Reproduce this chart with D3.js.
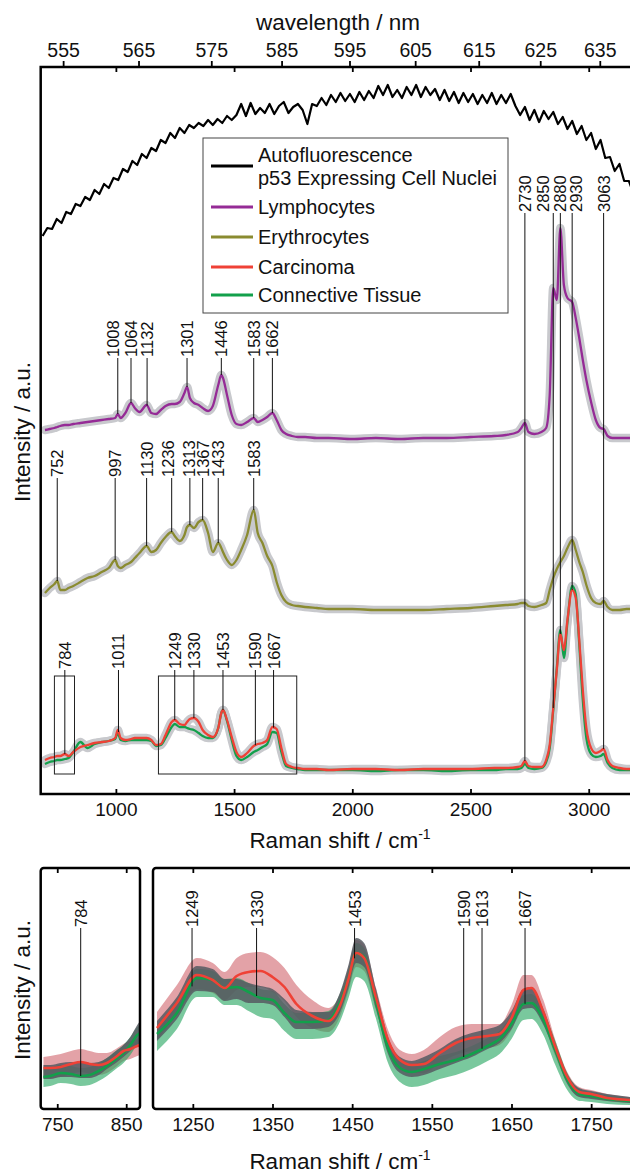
<!DOCTYPE html>
<html>
<head>
<meta charset="utf-8">
<script src="https://cdn.jsdelivr.net/npm/d3@7"></script>
<style>
  body { margin: 0; background: #fff; }
  svg { display: block; font-family: "Liberation Sans", Arial, Helvetica, sans-serif; }
</style>
</head>
<body>
<svg id="plot"></svg>
<script>
// ---------- main panel: Raman shift grid (cm-1) and mean spectra (a.u.) ----------
const shift = [700,720,740,752,765,784,800,820,850,880,
  910,940,970,997,1008,1020,1040,1064,1080,1100,
  1130,1150,1170,1190,1210,1236,1249,1270,1290,1301,
  1313,1330,1350,1367,1390,1410,1433,1446,1453,1470,
  1490,1510,1530,1555,1583,1600,1620,1640,1662,1680,
  1700,1720,1745,1770,1800,1850,1900,2000,2100,2200,
  2300,2400,2500,2600,2650,2700,2715,2730,2745,2770,
  2800,2820,2835,2850,2865,2880,2895,2910,2930,2945,
  2960,2975,2990,3010,3030,3050,3063,3080,3100,3130,
  3160,3200];

const lymphocytes = [34,35,36,37,38,39,39,40,41,42,
  43,44,45,46,50,46,51,61,56,52,
  59,51,50,54,58,60,60,62,71,77,
  66,61,59,56,53,58,79,89,86,69,
  49,40,39,42,46,42,44,47,51,44,
  34,30,28,27,27,26,26,25,26,25,
  26,26,27,28,29,32,36,41,32,30,
  32,36,69,176,164,236,179,166,162,146,
  126,104,84,62,44,36,35,28,26,26,
  26,26];

const erythrocytes = [41,46,50,53,44,44,46,48,52,56,
  58,62,66,74,68,66,69,72,76,81,
  88,82,84,91,97,102,98,93,99,107,
  109,106,112,114,101,82,91,86,82,74,
  69,74,84,99,124,101,91,78,68,52,
  39,32,29,28,27,26,25,25,24,24,
  24,25,26,28,29,30,31,31,28,27,
  29,31,44,56,65,72,78,86,94,84,
  72,62,49,36,31,30,33,27,24,24,
  25,25];

const carcinoma = [34,36,37,38,38,40,38,42,47,49,
  51,52,53,56,64,56,54,55,56,56,
  56,54,49,50,59,72,74,70,69,72,
  75,76,72,64,59,57,66,81,84,74,
  57,42,37,41,48,50,51,54,67,65,
  46,30,27,26,25,25,24,25,25,24,
  25,25,25,26,26,27,28,33,28,27,
  27,34,49,86,124,160,144,174,204,196,
  154,104,66,46,41,43,45,34,28,26,
  25,25];

const connective = [30,32,33,34,34,35,36,42,52,46,
  50,52,53,55,61,54,53,54,54,54,
  54,53,48,49,56,67,70,67,67,66,
  65,64,61,58,56,56,66,81,84,73,
  54,38,34,37,42,44,47,50,62,61,
  42,28,26,25,24,24,24,24,23,24,
  24,23,24,24,25,25,26,30,26,25,
  26,32,46,84,126,164,136,172,208,200,
  150,94,56,40,37,38,40,31,26,24,
  24,24];

// vertical stacking of the spectra
const lymphOffset = 330, erythOffset = 160;

// autofluorescence, sampled every 20 cm-1 from 690 cm-1
const afStart = 690, afStep = 20;
const autofluorescence = [558,566,565,575,571,582,580,590,588,597,
  594,604,600,610,606,616,614,625,622,633,
  629,640,636,646,643,654,651,661,656,666,
  661,669,666,671,668,674,669,675,671,678,
  674,679,690,678,691,680,686,681,690,680,
  688,692,681,687,690,684,670,690,688,696,
  689,699,692,701,693,700,692,702,694,703,
  696,708,699,709,697,704,696,707,699,709,
  697,707,699,705,694,704,693,702,691,701,
  692,700,690,699,691,701,690,699,691,700,
  688,679,687,674,684,672,683,675,682,670,
  677,665,673,660,668,654,661,645,654,636,
  637,623,630,613,613,600];

const laserNm = 532;
const ramanTicks = [1000, 1500, 2000, 2500, 3000];
const wavelengthTicks = [555, 565, 575, 585, 595, 605, 615, 625, 635];

const lymphPeaks = [1008, 1064, 1132, 1301, 1446, 1583, 1662];
const erythPeaks = [752, 997, 1130, 1236, 1313, 1367, 1433, 1583];
const carcPeaks = [784, 1011, 1249, 1330, 1453, 1590, 1667];
const chPeaks = [2730, 2850, 2880, 2930, 3063];
const zoomBoxes = [[740, 825], [1180, 1765]];

// ---------- detail panels ----------
const leftShift = [730, 740, 755, 770, 784, 797, 810, 822, 835, 846, 856, 866, 870];
const leftCarc = [41,41,42,45,47,45,44,46,52,58,60,63,64];
const leftConn = [32,33,36,35,33,34,38,43,50,56,64,74,76];
const leftCarcHi = [52,53,55,58,60,58,56,56,60,65,68,70,72];
const leftCarcLo = [31,31,32,35,37,35,34,36,42,48,50,53,54];
const leftConnHi = [40,41,44,43,41,42,46,51,58,64,72,82,84];
const leftConnLo = [22,23,26,25,23,24,28,33,40,46,54,64,66];
const leftGrayHi = [44,44,46,47,47,46,47,51,58,64,72,84,88];
const leftGrayLo = [30,30,32,32,31,31,34,40,46,52,58,64,66];

const rightShift = [1205,1230,1255,1275,1290,1305,1320,1335,1350,1365,1380,1400,1420,1435,1445,1455,1465,1480,1495,1510,
  1525,1540,1560,1580,1600,1620,1635,1650,1665,1675,1690,1705,1720,1735,1750,1770,1800];
const rightCarc = [81,106,134,129,121,133,137,138,132,122,105,93,88,104,129,156,151,111,69,49,
  44,45,56,66,71,73,75,91,119,121,97,62,32,17,15,11,9];
const rightConn = [75,96,131,129,121,122,117,111,109,96,87,87,89,107,129,156,152,107,61,41,
  37,40,45,49,55,63,70,85,105,106,89,59,29,15,13,10,8];
const rightCarcHi = [97,124,151,146,137,151,156,157,152,141,124,109,101,115,141,169,164,121,79,59,
  55,59,72,82,85,85,85,104,134,134,109,69,37,22,19,15,12];
const rightCarcLo = [69,94,120,116,109,119,122,122,117,108,92,81,77,93,117,142,138,99,59,40,
  36,36,46,54,58,61,64,79,106,108,86,53,26,12,11,8,6];
const rightConnHi = [84,105,140,138,130,131,126,120,118,105,96,96,98,116,139,166,161,116,70,49,
  45,48,53,57,63,71,78,94,114,115,98,68,36,20,17,14,11];
const rightConnLo = [58,80,112,112,104,104,98,92,90,78,70,70,72,88,110,132,128,90,46,27,
  22,24,30,34,40,48,55,70,89,90,74,44,19,8,7,5,4];
const rightGrayHi = [88,112,143,140,130,130,126,123,120,110,99,97,97,117,143,171,166,120,72,52,
  48,52,60,70,76,80,84,98,120,122,100,66,35,21,18,15,12];
const rightGrayLo = [68,90,118,117,108,110,106,106,104,92,80,80,82,97,120,146,142,100,55,36,
  32,34,40,46,52,60,66,80,100,101,84,55,25,12,10,8,6];

const leftTicks = [750, 850];
const rightTicks = [1250, 1350, 1450, 1550, 1650, 1750];
const leftPeaks = [784];
const rightPeaks = [1249, 1330, 1453, 1590, 1613, 1667];

const legendItems = [
  {label: ["Autofluorescence", "p53 Expressing Cell Nuclei"], color: "#000"},
  {label: ["Lymphocytes"], color: "#952b96"},
  {label: ["Erythrocytes"], color: "#8a8b30"},
  {label: ["Carcinoma"], color: "#ef4136"},
  {label: ["Connective Tissue"], color: "#12a04b"}
];

// ---------- layout ----------
const W = 630, H = 1173;
const mainBox = {left: 40.7, right: 640, top: 67, bottom: 794};
const lowBox = {top: 868, bottom: 1109, lLeft: 40.7, lRight: 140, rLeft: 153, rRight: 640};
const labelSize = 16.5;

const svg = d3.select("#plot").attr("width", W).attr("height", H);

const x = d3.scaleLinear().domain([682, 3200]).range([40.7, 636]);
const y = d3.scaleLinear().domain([0, 727]).range([mainBox.bottom, mainBox.top]);
const xl = d3.scaleLinear().domain([726, 870]).range([lowBox.lLeft, lowBox.lRight]);
const xr = d3.scaleLinear().domain([1200, 1800]).range([lowBox.rLeft, 631]);
const yb = d3.scaleLinear().domain([0, 241]).range([lowBox.bottom, lowBox.top]);

function valueAt(xs, ys, s) {
  const i = d3.bisectLeft(xs, s);
  if (i <= 0) return ys[0];
  if (i >= xs.length) return ys[ys.length - 1];
  const t = (s - xs[i - 1]) / (xs[i] - xs[i - 1]);
  return ys[i - 1] + t * (ys[i] - ys[i - 1]);
}

const defs = svg.append("defs");
function clip(id, x0, y0, x1, y1) {
  defs.append("clipPath").attr("id", id).append("rect")
    .attr("x", x0).attr("y", y0).attr("width", x1 - x0).attr("height", y1 - y0);
  return "url(#" + id + ")";
}

// ---------- main panel ----------
const plot = svg.append("g").attr("clip-path", clip("cmain", mainBox.left, mainBox.top, W, mainBox.bottom));

const afPoints = autofluorescence.map((v, i) => [afStart + i * afStep, v]);
plot.append("path")
  .attr("d", d3.line().x(d => x(d[0])).y(d => y(d[1]))(afPoints))
  .attr("fill", "none").attr("stroke", "#000").attr("stroke-width", 2.2)
  .attr("stroke-linejoin", "round");

const spectra = [
  {values: lymphocytes, offset: lymphOffset, color: legendItems[1].color},
  {values: erythrocytes, offset: erythOffset, color: legendItems[2].color},
  {values: connective, offset: 0, color: legendItems[4].color},
  {values: carcinoma, offset: 0, color: legendItems[3].color}
];
spectra.forEach(s => { s.points = shift.map((v, i) => [v, s.values[i] + s.offset]); });

const mainLine = d3.line().x(d => x(d[0])).y(d => y(d[1])).curve(d3.curveMonotoneX);

plot.selectAll(".sd")
  .data(spectra)
  .join("path")
    .attr("class", "sd")
    .attr("d", d => mainLine(d.points))
    .attr("fill", "none").attr("stroke", "#c8c9cd").attr("stroke-width", 8.5)
    .attr("stroke-linejoin", "round").attr("stroke-linecap", "round");

plot.selectAll(".mean")
  .data(spectra)
  .join("path")
    .attr("class", "mean")
    .attr("d", d => mainLine(d.points))
    .attr("fill", "none").attr("stroke", d => d.color).attr("stroke-width", 2.3)
    .attr("stroke-linejoin", "round");

// zoom boxes
svg.selectAll(".zoombox")
  .data(zoomBoxes)
  .join("rect")
    .attr("class", "zoombox")
    .attr("x", d => x(d[0])).attr("width", d => x(d[1]) - x(d[0]))
    .attr("y", y(118)).attr("height", y(20) - y(118))
    .attr("fill", "none").attr("stroke", "#222").attr("stroke-width", 1);

// peak annotations; nudge moves a crowded label sideways off its line
function peakLabels(xs, peaks, labelBottom, endY, nudge) {
  const g = svg.append("g");
  g.selectAll("line")
    .data(peaks)
    .join("line")
      .attr("x1", d => xs(d)).attr("x2", d => xs(d))
      .attr("y1", labelBottom).attr("y2", d => endY(d))
      .attr("stroke", "#111").attr("stroke-width", 1);
  g.selectAll("text")
    .data(peaks)
    .join("text")
      .attr("transform", (d, i) => `translate(${xs(d) + ((nudge && nudge[i]) || 0)},${labelBottom - 1}) rotate(-90)`)
      .attr("dy", "0.36em")
      .attr("font-size", labelSize)
      .attr("fill", "#111")
      .text(d => d);
}

peakLabels(x, lymphPeaks, 358, p => y(valueAt(shift, lymphocytes, p) + lymphOffset), [-5, 0, 0, 0, 0, 0, 0]);
peakLabels(x, erythPeaks, 478, p => y(valueAt(shift, erythrocytes, p) + erythOffset), [0, 0, 0, -4, -1, 0, 0, 0]);
peakLabels(x, carcPeaks, 670, p => y(valueAt(shift, carcinoma, p)));
peakLabels(x, chPeaks, 213, p => y(valueAt(shift, carcinoma, p)), [0, -10, 0, 4, 0]);

// frame + axes
svg.append("rect")
  .attr("x", mainBox.left).attr("y", mainBox.top)
  .attr("width", mainBox.right - mainBox.left).attr("height", mainBox.bottom - mainBox.top)
  .attr("fill", "none").attr("stroke", "#000").attr("stroke-width", 2.5);

function styleAxis(g, size) {
  g.select(".domain").remove();
  g.selectAll("line").attr("stroke", "#000").attr("stroke-width", 1.8);
  g.selectAll("text").attr("font-size", size).attr("font-family", null).attr("fill", "#111");
}

svg.append("g")
  .attr("transform", `translate(0,${mainBox.bottom})`)
  .call(d3.axisBottom(x).tickValues(ramanTicks).tickSize(-5).tickPadding(9).tickFormat(d3.format("d")))
  .call(g => styleAxis(g, 19));

svg.append("g")
  .attr("transform", `translate(0,${mainBox.top})`)
  .call(d3.axisTop(x).tickValues(ramanTicks).tickSize(-5).tickFormat(""))
  .call(g => styleAxis(g, 19));

// wavelength axis (532 nm excitation)
const waveX = nm => x(1e7 / laserNm - 1e7 / nm);
const wave = svg.append("g");
wave.selectAll("line")
  .data(wavelengthTicks)
  .join("line")
    .attr("x1", waveX).attr("x2", waveX)
    .attr("y1", mainBox.top).attr("y2", mainBox.top - 6)
    .attr("stroke", "#000").attr("stroke-width", 1.8);
wave.selectAll("text")
  .data(wavelengthTicks)
  .join("text")
    .attr("x", waveX).attr("y", 57)
    .attr("text-anchor", "middle").attr("font-size", 19.5).attr("fill", "#111")
    .text(d => d);

svg.append("text")
  .attr("x", 338).attr("y", 30)
  .attr("text-anchor", "middle").attr("font-size", 22.5).attr("fill", "#111")
  .text("wavelength / nm");

function ramanTitle(cy) {
  const t = svg.append("text")
    .attr("x", 340).attr("y", cy)
    .attr("text-anchor", "middle").attr("font-size", 22.5).attr("fill", "#111");
  t.append("tspan").text("Raman shift / cm");
  t.append("tspan").attr("dy", -9).attr("font-size", 14).text("-1");
}
ramanTitle(848);

function intensityTitle(cy) {
  svg.append("text")
    .attr("transform", `translate(22,${cy}) rotate(-90)`)
    .attr("dy", "0.36em")
    .attr("text-anchor", "middle").attr("font-size", 22.5).attr("fill", "#111")
    .text("Intensity / a.u.");
}
intensityTitle(432);

// legend
const legend = svg.append("g").attr("transform", "translate(203,138)");
legend.append("rect")
  .attr("width", 305).attr("height", 175)
  .attr("fill", "#fff").attr("stroke", "#444").attr("stroke-width", 1);
const legendRows = [28, 69, 99, 129, 157];
legendItems.forEach((item, i) => {
  const cy = legendRows[i];
  legend.append("line")
    .attr("x1", 8).attr("x2", 50).attr("y1", cy).attr("y2", cy)
    .attr("stroke", item.color).attr("stroke-width", 3);
  const t = legend.append("text")
    .attr("x", 55).attr("font-size", 20).attr("fill", "#111");
  item.label.forEach((s, j) => {
    t.append("tspan")
      .attr("x", 55)
      .attr("y", cy + 7 + (item.label.length > 1 ? (j === 0 ? -11.5 : 11.5) : 0))
      .text(s);
  });
});

// ---------- detail panels ----------
function detailPanel(id, xs, xsData, hiC, loC, hiN, loN, hiG, loG, carc, conn, x0, x1) {
  const g = svg.append("g").attr("clip-path", clip(id, x0, lowBox.top, x1, lowBox.bottom));
  const area = (hi, lo) => d3.area()
    .x((d, i) => xs(xsData[i])).y0((d, i) => yb(lo[i])).y1((d, i) => yb(hi[i]))
    .curve(d3.curveMonotoneX)(xsData);
  const line = vals => d3.line()
    .x((d, i) => xs(xsData[i])).y((d, i) => yb(vals[i]))
    .curve(d3.curveMonotoneX)(xsData);
  g.append("path").attr("d", area(hiC, loC)).attr("fill", "#d0646c").attr("fill-opacity", 0.6);
  g.append("path").attr("d", area(hiN, loN)).attr("fill", "#1fa35c").attr("fill-opacity", 0.6);
  g.append("path").attr("d", area(hiG, loG)).attr("fill", "#565a62").attr("fill-opacity", 0.85);
  g.append("path").attr("d", line(conn)).attr("fill", "none")
    .attr("stroke", legendItems[4].color).attr("stroke-width", 2.6);
  g.append("path").attr("d", line(carc)).attr("fill", "none")
    .attr("stroke", legendItems[3].color).attr("stroke-width", 2.6);
}

detailPanel("cleft", xl, leftShift, leftCarcHi, leftCarcLo, leftConnHi, leftConnLo,
  leftGrayHi, leftGrayLo, leftCarc, leftConn, lowBox.lLeft, lowBox.lRight);
detailPanel("cright", xr, rightShift, rightCarcHi, rightCarcLo, rightConnHi, rightConnLo,
  rightGrayHi, rightGrayLo, rightCarc, rightConn, lowBox.rLeft, W);

peakLabels(xl, leftPeaks, 928, p => yb(valueAt(leftShift, leftConn, p)));
peakLabels(xr, rightPeaks, 928, p => yb(valueAt(rightShift, rightConn, p)));

[[lowBox.lLeft, lowBox.lRight], [lowBox.rLeft, lowBox.rRight]].forEach(b => {
  svg.append("rect")
    .attr("x", b[0]).attr("y", lowBox.top)
    .attr("width", b[1] - b[0]).attr("height", lowBox.bottom - lowBox.top)
    .attr("rx", 3)
    .attr("fill", "none").attr("stroke", "#000").attr("stroke-width", 2.5);
});

[[xl, leftTicks], [xr, rightTicks]].forEach(([sc, ticks]) => {
  svg.append("g")
    .attr("transform", `translate(0,${lowBox.bottom})`)
    .call(d3.axisBottom(sc).tickValues(ticks).tickSize(-5).tickPadding(8.5).tickFormat(d3.format("d")))
    .call(g => styleAxis(g, 19));
  svg.append("g")
    .attr("transform", `translate(0,${lowBox.top})`)
    .call(d3.axisTop(sc).tickValues(ticks).tickSize(-5).tickFormat(""))
    .call(g => styleAxis(g, 19));
});

ramanTitle(1169);
intensityTitle(990);
</script>
</body>
</html>
